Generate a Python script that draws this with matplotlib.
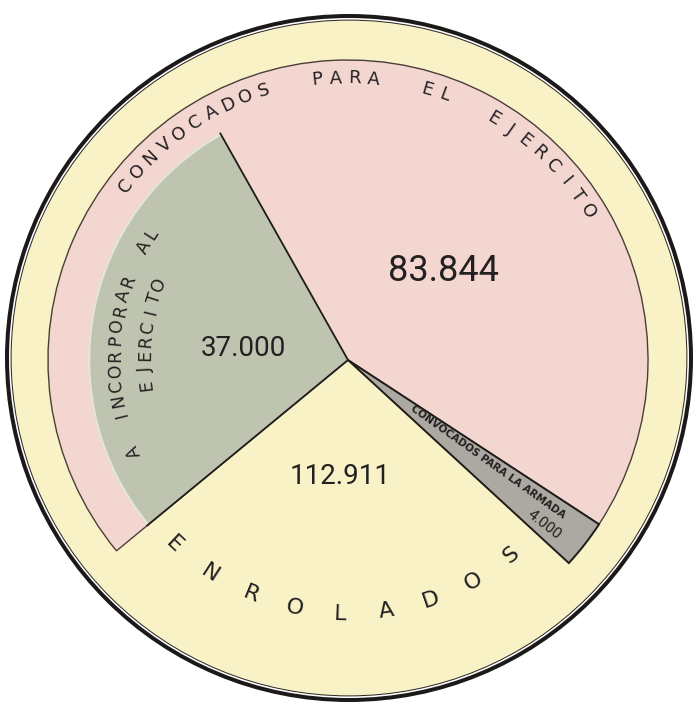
import numpy as np
import matplotlib.pyplot as plt
from matplotlib.patches import Wedge, Circle, Arc

W, H = 696, 706

# values (angles are what the plate shows, not proportional)
categories = ["ENROLADOS", "CONVOCADOS PARA LA ARMADA", "CONVOCADOS PARA EL EJERCITO"]
value_labels = ["112.911", "4.000", "83.844"]
sweep_deg = [97.9, 9.4, 252.7]
start_deg = 219.5

sub_lines = ["A INCORPORAR AL", "EJERCITO"]
sub_label = "37.000"
sub_sweep_deg = 100.1

cream = "#f8f2c6"
colors = [cream, "#aca8a2", "#f4d6d1"]
sub_color = "#bec4b0"
ink = "#222020"
num_font = ["Roboto", "DejaVu Sans"]

fig = plt.figure(figsize=(W / 100, H / 100), dpi=100)
ax = fig.add_axes([0, 0, 1, 1])
ax.set_xlim(0, W)
ax.set_ylim(0, H)
ax.set_aspect("equal")
ax.axis("off")

cx, cy = 348, 346
R = 300
r_sub = 260

# plate with double rim
oc = (349, 348)
ax.add_patch(Circle(oc, 344.0, fc="#1c1a18", ec="none"))
ax.add_patch(Circle(oc, 340.0, fc="white", ec="none"))
ax.add_patch(Circle(oc, 338.4, fc="#2a2622", ec="none"))
ax.add_patch(Circle(oc, 337.4, fc=cream, ec="none"))

bounds = start_deg + np.concatenate([[0], np.cumsum(sweep_deg)])

# enrolados (same tone as plate)
ax.add_patch(Wedge((cx, cy), R, bounds[0], bounds[1], fc=colors[0], ec="none"))
# ejercito
ax.add_patch(Wedge((cx, cy), R, bounds[2], bounds[3], fc=colors[2], ec="#4a3e38", lw=1.0))

# sub sector inside ejercito
s1, s2 = bounds[3] - sub_sweep_deg, bounds[3]
ax.add_patch(Wedge((cx, cy), r_sub, s1, s2, fc=sub_color, ec="none"))
ax.add_patch(Arc((cx, cy), 2 * r_sub - 2, 2 * r_sub - 2, theta1=s1, theta2=s2, color="#e4e6d4", lw=1.8))
for th in (s1, s2):
    t = np.radians(th)
    ax.plot([cx, cx + r_sub * np.cos(t)], [cy, cy + r_sub * np.sin(t)], color="#1e1b18", lw=1.3)

# armada
ax.add_patch(Wedge((cx, cy), R, bounds[1], bounds[2], fc=colors[1], ec="#1e1b18", lw=1.4))


def arc_text(text, r, start, step, space, size, top=True):
    sgn = -1 if top else 1
    ang = start
    for ch in text:
        if ch == " ":
            ang += sgn * space
            continue
        t = np.radians(ang)
        rot = ang - 90 if top else ang + 90
        ax.text(cx + r * np.cos(t), cy + r * np.sin(t), ch, rotation=rot,
                rotation_mode="anchor", ha="center", va="center",
                fontsize=size, color=ink)
        ang += sgn * step


arc_text(categories[2], 282, 142.0, 3.85, 7.2, 13, top=True)
arc_text(categories[0], 254, 226.7, 10.4, 0, 16, top=False)
arc_text(sub_lines[0], 233, 203.0, 3.7, 5.6, 12.5, top=True)
arc_text(sub_lines[1], 203, 187.0, 4.1, 0, 12.5, top=True)

# numbers
ax.text(cx + 95, cy + 89, value_labels[2], fontsize=26, color=ink, ha="center", va="center",
        family=num_font)
ax.text(cx - 105, cy + 12, sub_label, fontsize=20, color=ink, ha="center", va="center",
        family=num_font)
ax.text(cx - 8, cy - 116, value_labels[0], fontsize=20, color=ink, ha="center", va="center",
        family=num_font)

# armada labels along the thin sector
ax.text(cx + 139.5, cy - 102, categories[1], fontsize=7.4, fontweight="bold", color=ink,
        rotation=-35.5, rotation_mode="anchor", ha="center", va="center")
ax.text(cx + 196, cy - 165, value_labels[1], fontsize=11, color=ink,
        rotation=-38, rotation_mode="anchor", ha="center", va="center",
        family=num_font)

fig.savefig("out.png", dpi=100, facecolor="white")
